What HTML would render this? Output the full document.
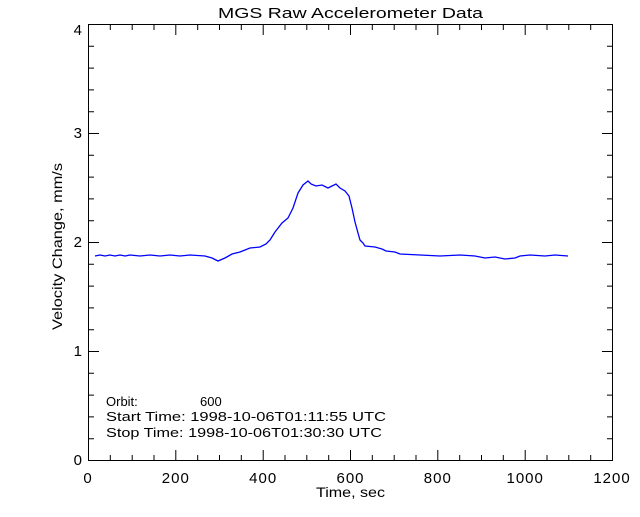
<!DOCTYPE html>
<html><head><meta charset="utf-8"><style>
html,body{margin:0;padding:0;background:#fff}
svg text{font-family:"Liberation Sans",sans-serif;fill:#000}
</style></head><body>
<svg width="640" height="512" viewBox="0 0 640 512" xmlns="http://www.w3.org/2000/svg">
<rect width="640" height="512" fill="#fff"/>
<text x="218" y="18" font-size="15" textLength="265" lengthAdjust="spacingAndGlyphs">MGS Raw Accelerometer Data</text>
<rect x="88.5" y="24.5" width="524" height="436" fill="none" stroke="#000" stroke-width="1"/>
<g stroke="#000" stroke-width="1">
<path d="M175.8,460v-10M263.2,460v-10M350.5,460v-10M437.8,460v-10M525.2,460v-10
M175.8,25v10M263.2,25v10M350.5,25v10M437.8,25v10M525.2,25v10"/>
<path d="M110.3,460v-5M132.2,460v-5M154,460v-5M197.7,460v-5M219.5,460v-5M241.3,460v-5M285,460v-5M306.8,460v-5M328.7,460v-5M372.3,460v-5M394.2,460v-5M416,460v-5M459.7,460v-5M481.5,460v-5M503.3,460v-5M547,460v-5M568.8,460v-5M590.7,460v-5
M110.3,25v5M132.2,25v5M154,25v5M197.7,25v5M219.5,25v5M241.3,25v5M285,25v5M306.8,25v5M328.7,25v5M372.3,25v5M394.2,25v5M416,25v5M459.7,25v5M481.5,25v5M503.3,25v5M547,25v5M568.8,25v5M590.7,25v5"/>
<path d="M89,351.5h10M89,242.5h10M89,133.5h10M612,351.5h-10M612,242.5h-10M612,133.5h-10"/>
<path d="M89,438.7h5M89,416.9h5M89,395.1h5M89,373.3h5M89,329.7h5M89,307.9h5M89,286.1h5M89,264.3h5M89,220.7h5M89,198.9h5M89,177.1h5M89,155.3h5M89,111.7h5M89,89.9h5M89,68.1h5M89,46.3h5
M612,438.7h-5M612,416.9h-5M612,395.1h-5M612,373.3h-5M612,329.7h-5M612,307.9h-5M612,286.1h-5M612,264.3h-5M612,220.7h-5M612,198.9h-5M612,177.1h-5M612,155.3h-5M612,111.7h-5M612,89.9h-5M612,68.1h-5M612,46.3h-5"/>
</g>
<g font-size="15" text-anchor="middle" letter-spacing="1">
<text x="88" y="483">0</text><text x="175.8" y="483">200</text><text x="263.2" y="483">400</text><text x="350.5" y="483">600</text><text x="437.8" y="483">800</text><text x="525.2" y="483">1000</text><text x="612" y="483">1200</text>
</g>
<g font-size="15" text-anchor="end">
<text x="82" y="465">0</text><text x="82" y="356">1</text><text x="82" y="247">2</text><text x="82" y="138">3</text><text x="82" y="35">4</text>
</g>
<text x="316" y="497" font-size="14" textLength="69" lengthAdjust="spacingAndGlyphs">Time, sec</text>
<text transform="translate(62,330) rotate(-90)" font-size="14" textLength="167" lengthAdjust="spacingAndGlyphs">Velocity Change, mm/s</text>
<g font-size="13">
<text x="106" y="406">Orbit:</text><text x="200" y="406">600</text>
<text x="106" y="421" textLength="280" lengthAdjust="spacingAndGlyphs">Start Time: 1998-10-06T01:11:55 UTC</text>
<text x="106" y="437" textLength="276" lengthAdjust="spacingAndGlyphs">Stop Time: 1998-10-06T01:30:30 UTC</text>
</g>
<polyline fill="none" stroke="#0000ff" stroke-width="1.3" points="95,256 100,255 105,256 110,255 115,256 120,255 125,256 130,255 140,256 150,255 160,256 170,255 180,256 190,255 205,256 212,258 218,261 225,258 232,254 240,252 250,248 260,247 266,244 270,240 275,232 282,223 288,218 293,208 298,193 303,185 308,181 311,184 316,186 322,185 328,188 332,186 336,184 340,188 345,191 349,196 352,208 355,222 358,233 360,240 363,243 365,246 375,247 382,249 386,251 395,252 400,254 420,255 440,256 460,255 475,256 485,258 495,257 505,259 515,258 520,256 530,255 545,256 555,255 568,256"/>
</svg>
</body></html>
